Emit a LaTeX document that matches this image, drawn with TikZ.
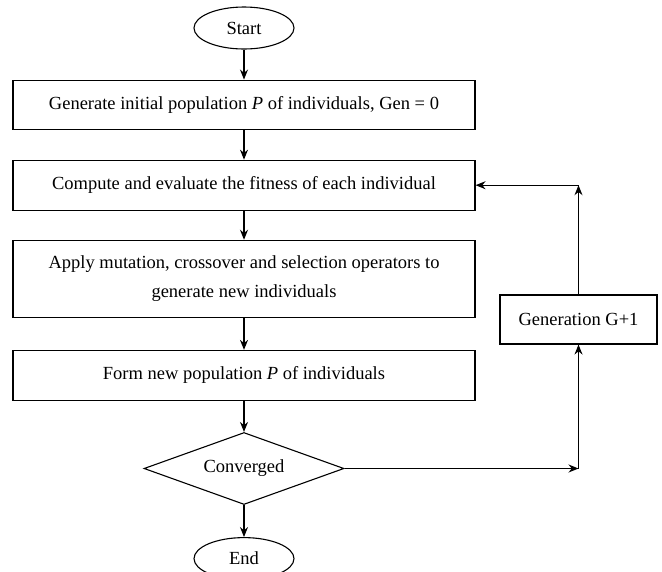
\documentclass[tikz,border=0pt]{standalone}
\usepackage{fontspec}
\setmainfont{Liberation Serif}
\usetikzlibrary{positioning,calc,shapes.geometric,arrows.meta}

\begin{document}
\begin{tikzpicture}[x=1pt, y=1pt, node distance=30pt, >={Stealth[length=10pt,width=8pt]}, line width=1.1pt, font=\fontsize{18.5}{29}\selectfont]
\tikzset{
  term/.style={draw, ellipse, minimum width=100pt, minimum height=42pt, inner sep=0pt},
  proc/.style={draw, rectangle, minimum width=462pt, minimum height=50pt, inner sep=2pt, align=center},
  cond/.style={draw, diamond, shape aspect=2.78, minimum width=200pt, minimum height=72pt, inner sep=0pt},
}
\useasboundingbox (0,0) rectangle (662,-571);
\node (start) [term] at (244,-28) {Start};
\node (init) [proc, below=of start, minimum height=49pt] {Generate initial population \textit{P} of individuals, Gen = 0};
\node (eval) [proc, below=of init] {Compute and evaluate the fitness of each individual};
\node (apply) [proc, below=29pt of eval, minimum height=77pt] {Apply mutation, crossover and selection operators to\\ generate new individuals};
\node (form) [proc, below=32pt of apply] {Form new population \textit{P} of individuals};
\node (conv) [cond, below=31pt of form] {Converged};
\node (end) [term, below=32pt of conv] {End};
\node (gen) [draw, minimum width=157pt, minimum height=49pt] at (578.5,-319.5) {Generation G+1};
\coordinate (c1) at (gen |- conv);
\coordinate (c2) at (gen |- eval);
% main chain
\draw[->] (start) -- (init);
\draw[->] (init) -- (eval);
\draw[->] (eval) -- (apply);
\draw[->] (apply) -- (form);
\draw[->] (form) -- (conv);
\draw[->] (conv) -- (end);
% loop back
\draw[->] (conv) -- (c1);
\draw[->] (c1) -- (gen);
\draw[->] (gen) -- (c2);
\draw[->] (c2) -- (eval);
\end{tikzpicture}
\end{document}
